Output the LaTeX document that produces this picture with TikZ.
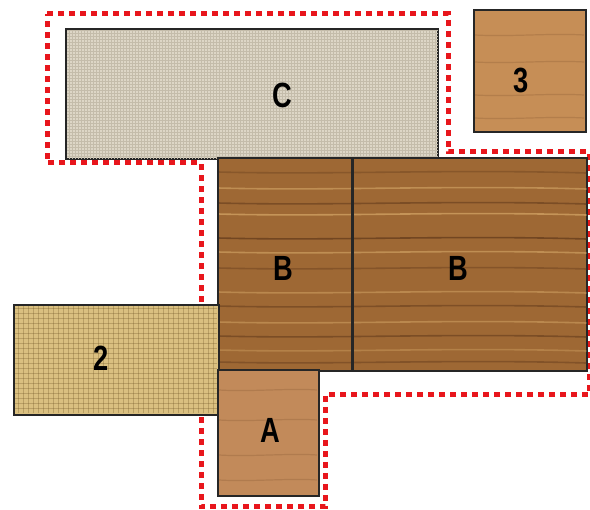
\documentclass[tikz,border=0pt]{standalone}
\usepackage{fontspec}
\setmainfont{Liberation Sans}
\usepackage{graphicx}
\usetikzlibrary{positioning, patterns}

\begin{document}
\begin{tikzpicture}[
    x=1pt, y=-1pt,
    tile/.style={
      rectangle, draw=black!85, line width=1.1pt,
      inner sep=0pt, anchor=north west
    },
    tag/.style={font=\fontsize{35}{35}\selectfont\bfseries, text=black},
    outline/.style={draw=dotRed, line width=5pt, dash pattern=on 6pt off 5pt, line join=miter},
    grain/.style={line width=1.6pt, line cap=round},
    weave/.style={burlapDark, line width=1pt, opacity=0.3}
  ]
    \definecolor{dotRed}{RGB}{232,22,28}
    \definecolor{linen}{RGB}{221,214,198}
    \definecolor{linenDark}{RGB}{196,188,170}
    \definecolor{burlap}{RGB}{218,192,128}
    \definecolor{burlapDark}{RGB}{110,84,36}
    \definecolor{oakLight}{RGB}{198,142,86}
    \definecolor{oakA}{RGB}{194,138,90}
    \definecolor{oakDark}{RGB}{158,104,52}
    \definecolor{grainDark}{RGB}{96,56,26}
    \definecolor{grainPale}{RGB}{214,168,104}

    \useasboundingbox (0,0) rectangle (590,510);

    % dotted outline
    \draw[outline] (47,14) -- (448,14) -- (448,152) -- (589,152) -- (589,395)
      -- (325,395) -- (325,507) -- (201,507) -- (201,163) -- (47,163) -- cycle;

    % tiles
    \node[tile, fill=linen, minimum width=371pt, minimum height=129pt] (tileC) at (66,29) {};
    \fill[pattern=grid, pattern color=linenDark] (tileC.south west) rectangle (tileC.north east);
    \draw[black!85, line width=1.1pt] (tileC.south west) rectangle (tileC.north east);

    \node[tile, fill=oakLight, minimum width=111pt, minimum height=121pt] (tile3) at (474,10) {};

    \node[tile, fill=oakDark, minimum width=134pt, minimum height=212pt] (tileBl) at (218,158) {};
    \node[tile, fill=oakDark, minimum width=234pt, minimum height=212pt] (tileBr) at (352,158) {};

    % wood grain on B
    \begin{scope}
      \clip (tileBl.north west) rectangle (tileBr.south east);
      \foreach \y/\c/\o in {172/grainDark/0.35, 188/grainPale/0.6, 203/grainDark/0.55,
          214/grainPale/0.7, 238/grainDark/0.7, 252/grainPale/0.6, 268/grainDark/0.4,
          292/grainPale/0.5, 306/grainDark/0.5, 322/grainPale/0.5, 336/grainDark/0.55,
          350/grainPale/0.4, 362/grainDark/0.45} {
        \draw[grain, \c, opacity=\o] (218,\y) .. controls (330,\y+3) and (450,\y-3) .. (586,\y+1);
      }
    \end{scope}
    \draw[black!85, line width=1.1pt] (tileBl.north west) rectangle (tileBl.south east);
    \draw[black!85, line width=1.1pt] (tileBr.north west) rectangle (tileBr.south east);

    % light wood grain on 3 and A
    \foreach \y in {35,62,95,118} {
      \draw[grainDark, opacity=0.18, line width=1.2pt] (475,\y) .. controls (510,\y+2) and (550,\y-2) .. (584,\y);
    }

    \node[tile, fill=burlap, minimum width=204pt, minimum height=109pt] (tile2) at (14,305) {};
    \foreach \x in {18,23,...,216} {
      \draw[weave] (\x,306) -- (\x,413);
    }
    \foreach \y in {309,314,...,412} {
      \draw[weave] (15,\y) -- (217,\y);
    }
    \draw[black!85, line width=1.1pt] (tile2.south west) rectangle (tile2.north east);

    \node[tile, fill=oakA, minimum width=100pt, minimum height=125pt] (tileA) at (218,370) {};
    \foreach \y in {390,420,455,480} {
      \draw[grainDark, opacity=0.18, line width=1.2pt] (219,\y) .. controls (250,\y+2) and (290,\y-2) .. (317,\y);
    }
    \draw[black!85, line width=1.1pt] (tileA.north west) rectangle (tileA.south east);
    \draw[black!85, line width=1.1pt] (tile3.north west) rectangle (tile3.south east);

    % labels
    \node[tag] (labC) at (282,95) {\scalebox{0.78}[1]{C}};
    \node[tag] (lab3) at (521,80) {\scalebox{0.78}[1]{3}};
    \node[tag] (labBl) at (283,268) {\scalebox{0.78}[1]{B}};
    \node[tag] (labBr) at (458,268) {\scalebox{0.78}[1]{B}};
    \node[tag] (lab2) at (101,358) {\scalebox{0.78}[1]{2}};
    \node[tag] (labA) at (270,430) {\scalebox{0.78}[1]{A}};
  \end{tikzpicture}
\end{document}
